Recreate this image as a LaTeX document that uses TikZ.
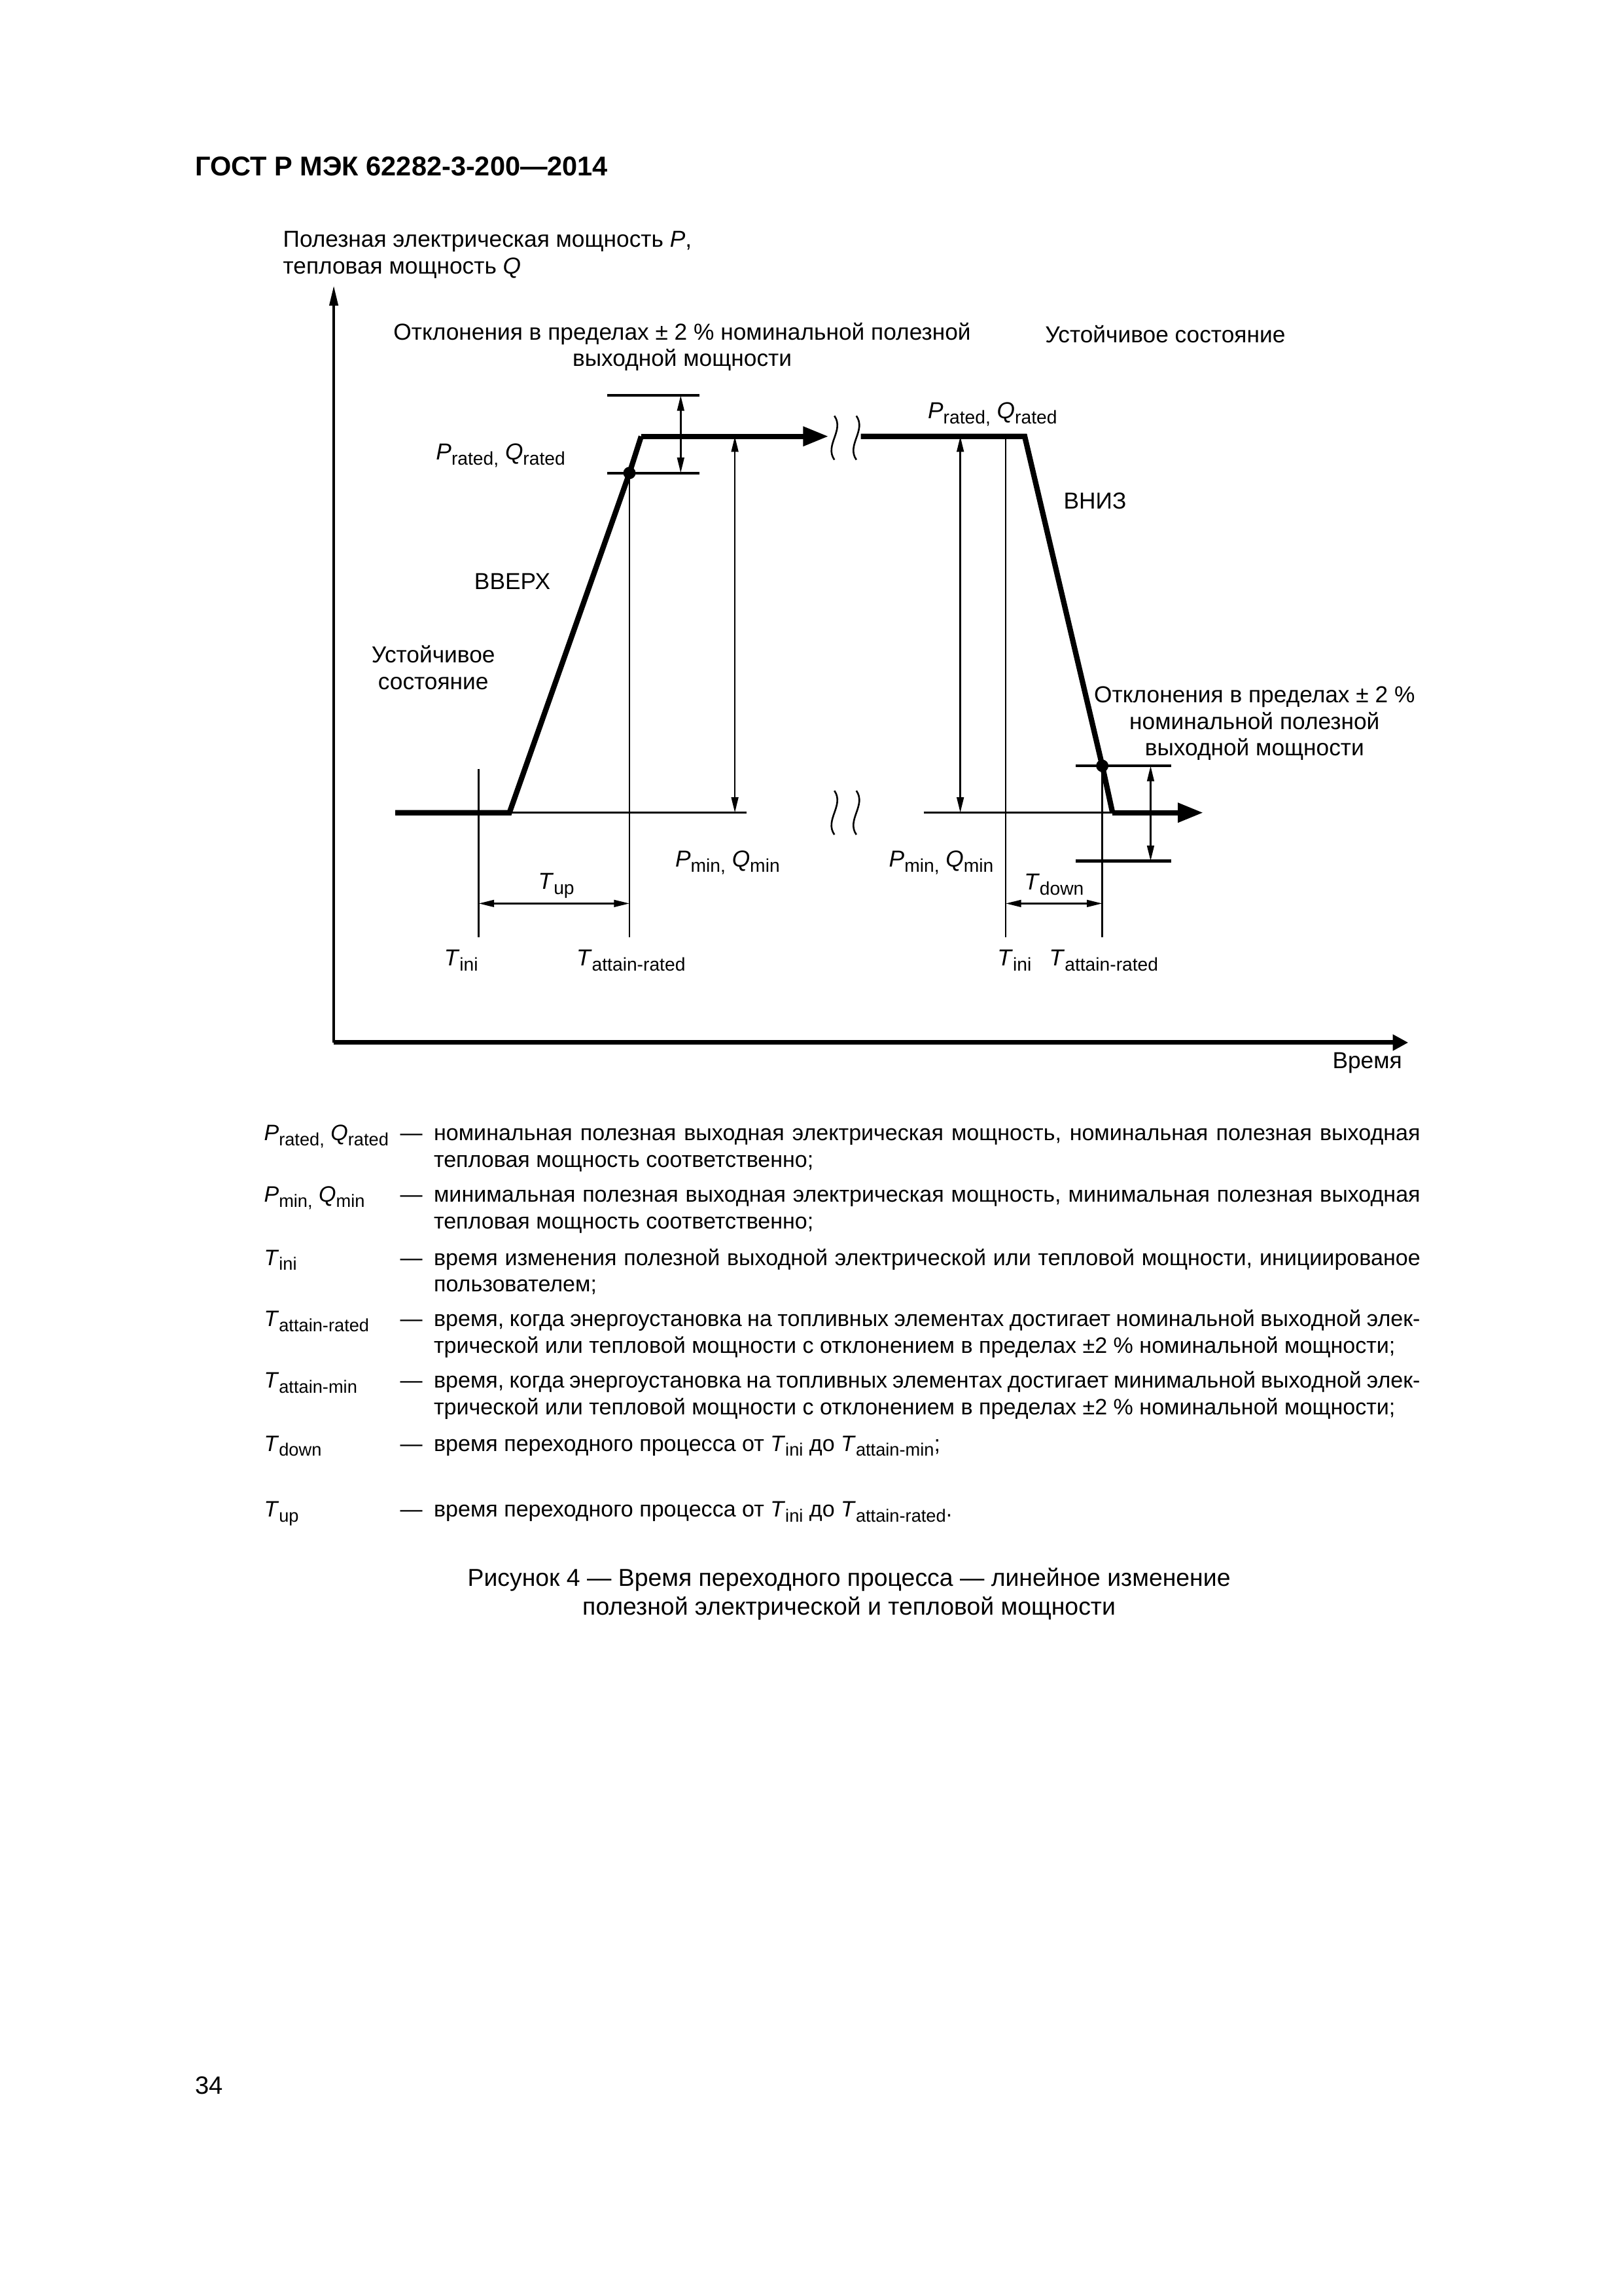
\documentclass[tikz,border=0pt]{standalone}
\usepackage{fontspec}
\usepackage{graphicx}
\setmainfont{Liberation Sans}
\usetikzlibrary{arrows.meta,positioning,calc}

\newcommand{\idx}[2]{\textit{#1}\raisebox{-0.42ex}{\scalebox{0.8}{#2}}}
\newcommand{\lblfont}{\fontsize{8.5}{9.7}\selectfont}
\newcommand{\legfont}{\fontsize{8.2}{9.7}\selectfont}

\begin{document}
\begin{tikzpicture}[
  x=0.18936mm, y=-0.18936mm,
  % ── curve and guide lines ──
  curve/.style={line width=0.7mm, line join=miter},
  guide/.style={line width=0.22mm},
  tolline/.style={line width=0.35mm},
  brk/.style={line width=0.22mm},
  % ── arrows ──
  dimarr/.style={guide, {Triangle[length=2mm,width=0.9mm]}-{Triangle[length=2mm,width=0.9mm]}},
  curvearr/.style={curve, -{Triangle[length=3.3mm,width=2.4mm]}},
  % ── text ──
  lbl/.style={inner sep=0, font=\lblfont, align=center},
  leg/.style={inner sep=0, font=\legfont, anchor=base west},
  % ── misc ──
  jdot/.style={fill, circle, minimum size=1.6mm, inner sep=0},
]
\useasboundingbox (0,0) rectangle (1109,1568);

%% ─── 0. page header ────────────────────────────────────────────
\node[inner sep=0, anchor=base west, font=\fontsize{10}{12}\selectfont\bfseries]
  (hdr) at (133,120) {ГОСТ Р МЭК 62282-3-200—2014};

%% ─── 1. axes ───────────────────────────────────────────────────
\coordinate (O)    at (228,712);
\coordinate (Ytop) at (228,195);
\coordinate (Xend) at (962,712);
\draw[line width=0.35mm, -{Triangle[length=2.6mm,width=1.1mm]}] (O) -- (Ytop);
\draw[line width=0.6mm, -{Triangle[length=2mm,width=2mm]}] (O) -- (Xend);
\node[lbl, anchor=west, align=left] (ylab) at (193,174)
  {Полезная электрическая мощность \textit{P},\\тепловая мощность \textit{Q}};
\node[lbl] (xlab) at (934,726) {Время};

%% ─── 2. rise (left part) ───────────────────────────────────────
% P_min y = 555 | P_rated y = 298
\coordinate (A0) at (270,555);
\coordinate (A1) at (348,555);
\node[jdot] (Rup) at (430,323) {};
\coordinate (A3) at (438,298);
\coordinate (A4) at (566,298);
\draw[curve] (A0) -- (A1) -- (Rup.center) -- (A3);
\draw[curvearr] (A3) -- (A4);

% tolerance band around P_rated
\coordinate (T1a) at (415,270); \coordinate (T1b) at (478,270);
\coordinate (T2a) at (415,323); \coordinate (T2b) at (478,323);
\draw[tolline] (T1a) -- (T1b);
\draw[tolline] (T2a) -- (T2b);
\draw[dimarr] (465,270) -- (465,323);

% P_min guide and full-range arrow
\coordinate (Pm1) at (510,555);
\draw[guide] (A1) -- (Pm1);
\draw[dimarr] (502,298) -- (502,555);

% time markers
\coordinate (Ti1a) at (327,525); \coordinate (Ti1b) at (327,640);
\coordinate (Ta1b) at (430,640);
\draw[guide] (Ti1a) -- (Ti1b);
\draw[guide] (Rup.center) -- (Ta1b);
\draw[dimarr] (327,617) -- (430,617);

%% ─── 3. fall (right part) ──────────────────────────────────────
\coordinate (B0) at (588,298);
\coordinate (B1) at (700,298);
\node[jdot] (Rdn) at (753,523) {};
\coordinate (B3) at (760,555);
\coordinate (B4) at (822,555);
\draw[curve] (B0) -- (B1) -- (Rdn.center) -- (B3);
\draw[curvearr] (B3) -- (B4);

% tolerance band around P_min
\coordinate (T3a) at (735,523); \coordinate (T3b) at (800,523);
\coordinate (T4a) at (735,588); \coordinate (T4b) at (800,588);
\draw[tolline] (T3a) -- (T3b);
\draw[tolline] (T4a) -- (T4b);
\draw[dimarr] (786,523) -- (786,588);

% P_min guide and full-range arrow
\coordinate (Pm2) at (631,555);
\draw[guide] (Pm2) -- (B3);
\draw[dimarr] (656,298) -- (656,555);

% time markers
\coordinate (Ti2a) at (687,298); \coordinate (Ti2b) at (687,640);
\coordinate (Ta2b) at (753,640);
\draw[guide] (Ti2a) -- (Ti2b);
\draw[guide] (Rdn.center) -- (Ta2b);
\draw[dimarr] (687,617) -- (753,617);

%% ─── 4. break marks ────────────────────────────────────────────
\foreach \bx in {570,585}{
  \foreach \by in {284,540}{
    \draw[brk] (\bx,\by) .. controls (\bx+7,\by+10) and (\bx-7,\by+20) .. (\bx,\by+30);
  }
}

%% ─── 5. labels ─────────────────────────────────────────────────
\node[lbl] (dev1)   at (466,237) {Отклонения в пределах ± 2 \% номинальной полезной\\выходной мощности};
\node[lbl] (steadyR) at (796,228) {Устойчивое состояние};
\node[lbl] (prL)    at (342,311) {\idx{P}{rated,}~\idx{Q}{rated}};
\node[lbl] (prR)    at (678,283) {\idx{P}{rated,}~\idx{Q}{rated}};
\node[lbl] (up)     at (350,397) {ВВЕРХ};
\node[lbl] (steadyL) at (296,456) {Устойчивое\\состояние};
\node[lbl] (down)   at (748,342) {ВНИЗ};
\node[lbl] (dev2)   at (857,494) {Отклонения в пределах ± 2 \%\\номинальной полезной\\выходной мощности};
\node[lbl] (pmL)    at (497,589) {\idx{P}{min,}~\idx{Q}{min}};
\node[lbl] (pmR)    at (643,589) {\idx{P}{min,}~\idx{Q}{min}};
\node[lbl] (tup)    at (380,605) {\idx{T}{up}};
\node[lbl] (tdown)  at (720,604) {\idx{T}{down}};
\node[lbl] (tiniL)  at (315,656) {\idx{T}{ini}};
\node[lbl] (tattL)  at (431,656) {\idx{T}{attain-rated}};
\node[lbl] (tiniR)  at (693,656) {\idx{T}{ini}};
\node[lbl] (tattR)  at (754,656) {\idx{T}{attain-rated}};

%% ─── 6. legend ─────────────────────────────────────────────────
\foreach \ly in {779,821,864,906,948,991,1036}{
  \node[leg] at (273,\ly) {—};
}
\node[leg] (s1) at (180,779) {\idx{P}{rated,}\ \idx{Q}{rated}};
\node[leg, text width=127.6mm, align=justify] (d1) at (296,779)
  {номинальная полезная выходная электрическая мощность, номинальная полезная выходная\linebreak
   тепловая мощность соответственно;};
\node[leg] (s2) at (180,821) {\idx{P}{min,}\ \idx{Q}{min}};
\node[leg, text width=127.6mm, align=justify] (d2) at (296,821)
  {минимальная полезная выходная электрическая мощность, минимальная полезная выходная\linebreak
   тепловая мощность соответственно;};
\node[leg] (s3) at (180,864) {\idx{T}{ini}};
\node[leg, text width=127.6mm, align=justify] (d3) at (296,864)
  {время изменения полезной выходной электрической или тепловой мощности, инициированое\linebreak
   пользователем;};
\node[leg] (s4) at (180,906) {\idx{T}{attain-rated}};
\node[leg, text width=127.6mm, align=justify] (d4) at (296,906)
  {время, когда энергоустановка на топливных элементах достигает номинальной выходной элек-\linebreak
   трической или тепловой мощности с отклонением в пределах ±2 \% номинальной мощности;};
\node[leg] (s5) at (180,948) {\idx{T}{attain-min}};
\node[leg, text width=127.6mm, align=justify] (d5) at (296,948)
  {время, когда энергоустановка на топливных элементах достигает минимальной выходной элек-\linebreak
   трической или тепловой мощности с отклонением в пределах ±2 \% номинальной мощности;};
\node[leg] (s6) at (180,991) {\idx{T}{down}};
\node[leg] (d6) at (296,991) {время переходного процесса от \idx{T}{ini} до \idx{T}{attain-min};};
\node[leg] (s7) at (180,1036) {\idx{T}{up}};
\node[leg] (d7) at (296,1036) {время переходного процесса от \idx{T}{ini} до \idx{T}{attain-rated}.};

%% ─── 7. caption and page number ────────────────────────────────
% base anchor of a two-line node sits on its last line
\node[inner sep=0, anchor=base, align=center, font=\fontsize{9}{10.7}\selectfont] (cap) at (580,1103)
  {Рисунок 4 — Время переходного процесса — линейное изменение\\полезной электрической и тепловой мощности};
\node[inner sep=0, anchor=base west, font=\fontsize{9.2}{11}\selectfont] (pgno) at (133,1430) {34};

\end{tikzpicture}
\end{document}
